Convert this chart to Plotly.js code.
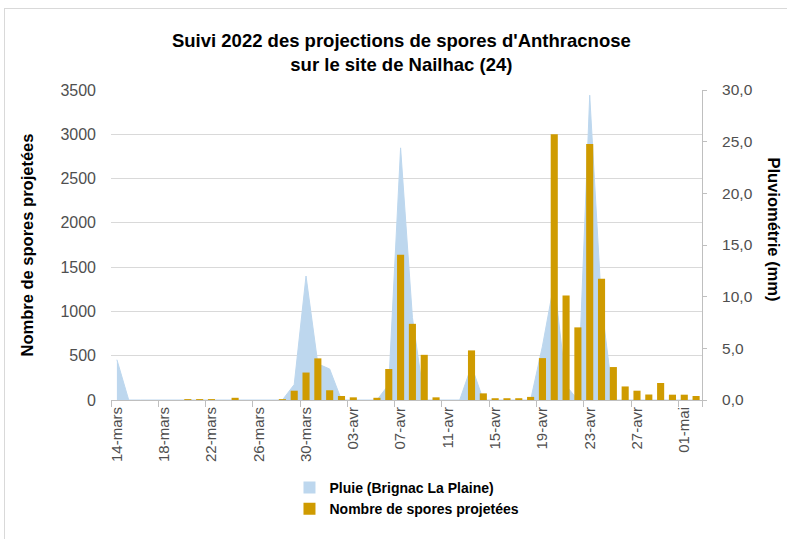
<!DOCTYPE html>
<html>
<head>
<meta charset="utf-8">
<script src="https://cdn.plot.ly/plotly-3.0.1.min.js"></script>
<style>
html,body{margin:0;padding:0;background:#fff;}
#wrap{position:relative;width:787px;height:539px;overflow:hidden;}
#chart{width:787px;height:539px;}
#frame{position:absolute;left:4px;top:8px;width:800px;height:560px;border:1px solid #d9d9d9;pointer-events:none;}
</style>
</head>
<body>
<div id="wrap"><div id="chart"></div><div id="frame"></div></div>
<script>
const dates = ['14-mars','15-mars','16-mars','17-mars','18-mars','19-mars','20-mars','21-mars','22-mars','23-mars',
  '24-mars','25-mars','26-mars','27-mars','28-mars','29-mars','30-mars','31-mars','01-avr','02-avr',
  '03-avr','04-avr','05-avr','06-avr','07-avr','08-avr','09-avr','10-avr','11-avr','12-avr',
  '13-avr','14-avr','15-avr','16-avr','17-avr','18-avr','19-avr','20-avr','21-avr','22-avr',
  '23-avr','24-avr','25-avr','26-avr','27-avr','28-avr','29-avr','30-avr','01-mai','02-mai'];

const spores = [0,0,0,0,0,0,10,10,10,0,
  25,0,0,0,10,105,310,470,110,45,
  30,0,25,350,1640,860,510,30,0,0,
  560,75,20,20,20,35,473,3000,1180,820,
  2890,1370,372,153,105,62,192,60,60,45];

const pluie = [3.9,0,0,0,0,0,0,0,0,0,
  0,0,0,0,0,1.5,12.0,3.5,3.0,0,
  0,0,0,1.5,24.4,8.0,0,0,0,0,
  3.3,0,0,0,0,0,5.2,11.4,1.4,0,
  29.5,9.2,0,0,0,0,0,0,0,0];

const tickStep = 4;
const nameRain = 'Pluie (Brignac La Plaine)';
const nameSpores = 'Nombre de spores projetées';
const titleRain = 'Pluviométrie (mm)';
const colRain = '#bdd7ee';
const colSpores = '#cf9b00';

const idx = dates.map((d, i) => i);
const tickIdx = idx.filter(i => i % tickStep === 0);
const tickTxt = tickIdx.map(i => dates[i]);
const bounds = tickIdx.map(i => i - 0.5).concat([dates.length - 0.5]);

const FONT = 'Liberation Sans, Arial, sans-serif';
const TICKCOL = '#4f4f4f';

const traces = [
  {type:'scatter', x: idx, y: pluie, xaxis:'x', yaxis:'y', mode:'lines',
   fill:'tozeroy', fillcolor: colRain, line:{color: colRain, width:1},
   name: nameRain, showlegend:false, hoverinfo:'skip'},
  {type:'bar', x:[null], y:[null], xaxis:'x2', yaxis:'y2', name: nameRain,
   marker:{color: colRain}, showlegend:true},
  {type:'bar', x: idx, y: spores, xaxis:'x2', yaxis:'y2', name: nameSpores,
   marker:{color: colSpores}, showlegend:true}
];

const layout = {
  width:787, height:539,
  margin:{l:111, r:85, t:90, b:139},
  paper_bgcolor:'#fff', plot_bgcolor:'#fff',
  separators:', ',
  bargap:0.4,
  barmode:'overlay',
  font:{family: FONT, color: TICKCOL},
  title:{text:'Suivi 2022 des projections de spores d\'Anthracnose<br>sur le site de Nailhac (24)',
    x:0.51, xanchor:'center', y:0.913, yanchor:'top',
    font:{family: FONT, size:18.5, color:'#000', weight:'bold'}},
  xaxis:{range:[-0.5, dates.length-0.5], tickmode:'array', tickvals: tickIdx, ticktext: tickTxt,
    tickangle:-90, ticks:'', showgrid:false, zeroline:false, showline:true, linecolor:'#bfbfbf', linewidth:1,
    tickfont:{size:15, color: TICKCOL}, anchor:'y', fixedrange:true},
  xaxis2:{overlaying:'x', matches:'x', anchor:'y2', tickmode:'array', tickvals: bounds,
    ticks:'outside', ticklen:6, tickcolor:'#bfbfbf', showticklabels:false, showgrid:false,
    zeroline:false, showline:false},
  yaxis:{side:'right', range:[0,30], dtick:5, tick0:0, tickformat:'.1f', showgrid:false, zeroline:false,
    showline:true, linecolor:'#bfbfbf', ticks:'outside', ticklen:4, tickcolor:'#bfbfbf',
    ticklabelstandoff:12,
    tickfont:{size:15.5, color: TICKCOL}},
  yaxis2:{side:'left', overlaying:'y', range:[0,3500], dtick:500, tick0:0, showgrid:true,
    gridcolor:'#d9d9d9', gridwidth:1, zeroline:false, showline:false, ticks:'',
    ticklabelstandoff:14,
    tickfont:{size:16, color: TICKCOL},
    title:{text: nameSpores, standoff:22, font:{size:16.5, color:'#000', weight:'bold'}}},
  annotations:[{text: titleRain, xref:'paper', yref:'paper', x:1.1235, y:0.55,
    xanchor:'center', yanchor:'middle', textangle:90, showarrow:false,
    font:{family: FONT, size:16.5, color:'#000', weight:'bold'}}],
  legend:{orientation:'v', x:0.302, xanchor:'left', y:-0.232, yanchor:'top',
    traceorder:'normal', bgcolor:'rgba(0,0,0,0)',
    font:{size:14, color:'#000', weight:'bold'}, itemclick:false}
};

Plotly.newPlot('chart', traces, layout, {displayModeBar:false, staticPlot:true});
</script>
</body>
</html>
